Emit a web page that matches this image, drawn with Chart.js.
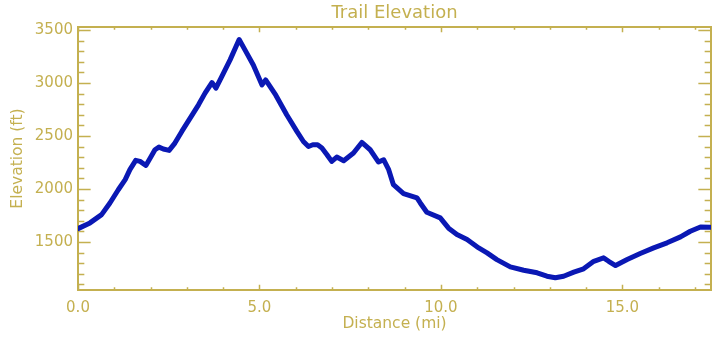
<!DOCTYPE html>
<html>
<head>
<meta charset="utf-8">
<title>Trail Elevation</title>
<script src="https://cdn.jsdelivr.net/npm/chart.js@4"></script>
<style>
  html, body { margin: 0; padding: 0; background: #fff; }
  #wrap { width: 720px; height: 345px; }
</style>
</head>
<body>
<div id="wrap"><canvas id="elev" width="720" height="345"></canvas></div>
<script>
// trail profile
const distance = [0, 0.33, 0.65, 0.88, 1.11, 1.30, 1.43, 1.59, 1.71, 1.87,
  1.99, 2.12, 2.23, 2.35, 2.51, 2.67, 2.86, 3.09, 3.32, 3.50,
  3.69, 3.80, 3.96, 4.19, 4.44, 4.60, 4.83, 5.07, 5.17, 5.45,
  5.75, 6.03, 6.21, 6.35, 6.47, 6.60, 6.72, 6.86, 6.99, 7.13,
  7.32, 7.59, 7.82, 8.05, 8.28, 8.42, 8.56, 8.69, 8.97, 9.34,
  9.43, 9.61, 9.98, 10.21, 10.44, 10.72, 11.04, 11.27, 11.54, 11.91,
  12.28, 12.65, 12.92, 13.15, 13.38, 13.66, 13.93, 14.21, 14.48, 14.62,
  14.81, 15.13, 15.49, 15.86, 16.23, 16.60, 16.87, 17.15, 17.42];
const elevation = [1626, 1680, 1758, 1868, 1993, 2088, 2182, 2270, 2260, 2222,
  2292, 2370, 2395, 2377, 2364, 2433, 2543, 2669, 2794, 2904,
  3004, 2951, 3060, 3218, 3410, 3312, 3170, 2982, 3029, 2885,
  2700, 2543, 2448, 2401, 2417, 2417, 2386, 2323, 2260, 2301,
  2267, 2339, 2439, 2370, 2254, 2276, 2182, 2041, 1956, 1915,
  1868, 1780, 1727, 1630, 1570, 1523, 1444, 1397, 1334, 1265,
  1233, 1209, 1177, 1162, 1177, 1215, 1247, 1318, 1350, 1318,
  1278, 1334, 1391, 1444, 1492, 1548, 1601, 1642, 1638];
const xTicks = [0, 5, 10, 15];
const yTicks = [1500, 2000, 2500, 3000, 3500];
const xMinorStep = 1, yMinorStep = 100;

const gold = '#c4b050';
const font = 'DejaVu Sans';

// IDL-style box with inward ticks on all four sides
const boxTicks = {
  id: 'boxTicks',
  beforeDatasetsDraw(chart) {
    const {ctx, chartArea: a, scales: {x, y}} = chart;
    const xLen = (a.bottom - a.top) * 0.02, yLen = (a.right - a.left) * 0.02;
    ctx.save();
    ctx.strokeStyle = gold;
    ctx.lineWidth = 1.5;
    for (let v = Math.ceil(x.min); v <= x.max; v += xMinorStep) {
      const px = Math.round(x.getPixelForValue(v)) + 0.5;
      const l = xTicks.includes(v) ? xLen : xLen / 2;
      ctx.beginPath();
      ctx.moveTo(px, a.bottom); ctx.lineTo(px, a.bottom - l);
      ctx.moveTo(px, a.top); ctx.lineTo(px, a.top + l);
      ctx.stroke();
    }
    for (let v = Math.ceil(y.min / yMinorStep) * yMinorStep; v <= y.max; v += yMinorStep) {
      const py = Math.round(y.getPixelForValue(v)) + 0.5;
      const l = yTicks.includes(v) ? yLen : yLen / 2;
      ctx.beginPath();
      ctx.moveTo(a.left, py); ctx.lineTo(a.left + l, py);
      ctx.moveTo(a.right, py); ctx.lineTo(a.right - l, py);
      ctx.stroke();
    }
    ctx.lineWidth = 2;
    ctx.strokeRect(a.left, a.top, a.right - a.left, a.bottom - a.top);
    ctx.restore();
  }
};

new Chart(document.getElementById('elev'), {
  type: 'line',
  data: {
    datasets: [{
      data: distance.map((d, i) => ({x: d, y: elevation[i]})),
      borderColor: '#0a18b4',
      borderWidth: 5,
      borderJoinStyle: 'round',
      borderCapStyle: 'round',
      pointRadius: 0,
      tension: 0,
      fill: false
    }]
  },
  options: {
    responsive: false,
    animation: false,
    devicePixelRatio: 1,
    layout: {padding: {left: 0, right: 9, top: 0, bottom: 0}},
    plugins: {
      legend: {display: false},
      tooltip: {enabled: false},
      title: {
        display: true,
        text: 'Trail Elevation',
        color: gold,
        fullSize: false,
        font: {family: font, size: 18, weight: 'normal', lineHeight: 1.2},
        padding: {top: 3, bottom: 2.4}
      }
    },
    scales: {
      x: {
        type: 'linear',
        min: 0,
        max: 17.44,
        afterFit: s => { s.height = 55; },
        afterBuildTicks: s => { s.ticks = xTicks.map(v => ({value: v})); },
        grid: {display: false, drawTicks: false},
        border: {display: false},
        ticks: {
          color: gold,
          padding: 9,
          maxRotation: 0,
          font: {family: font, size: 15},
          callback: v => v.toFixed(1)
        },
        title: {
          display: true,
          text: 'Distance (mi)',
          color: gold,
          font: {family: font, size: 15.5, lineHeight: 1.2},
          padding: {top: 0, bottom: 11.5}
        }
      },
      y: {
        type: 'linear',
        min: 1047,
        max: 3528,
        afterFit: s => { s.width = 78; },
        afterBuildTicks: s => { s.ticks = yTicks.map(v => ({value: v})); },
        grid: {display: false, drawTicks: false},
        border: {display: false},
        ticks: {
          color: gold,
          padding: 5,
          font: {family: font, size: 15},
          callback: v => String(v)
        },
        title: {
          display: true,
          text: 'Elevation (ft)',
          color: gold,
          font: {family: font, size: 15.5, lineHeight: 1.2},
          padding: {top: 9, bottom: 0}
        }
      }
    }
  },
  plugins: [boxTicks]
});
</script>
</body>
</html>
